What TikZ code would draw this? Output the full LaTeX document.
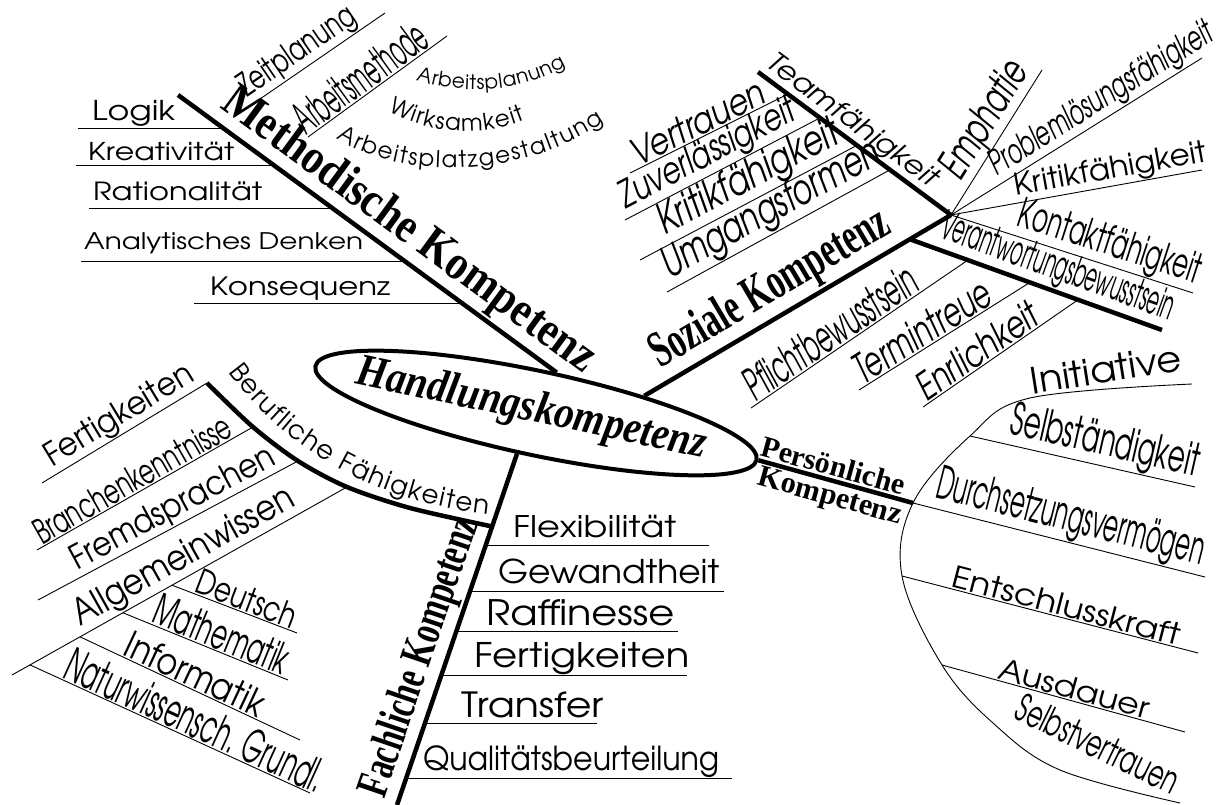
\documentclass[tikz,border=0pt]{standalone}
\usepackage[T1]{fontenc}
\usepackage{fontspec}
\newfontfamily\tnr{Liberation Serif}
\usetikzlibrary{calc,shapes.geometric,decorations.text}

% gothic face for the terms
\newcommand\gf{\fontencoding{T1}\fontfamily{pag}\fontsize{20}{22}\selectfont}
% scale a label to width #2 (pt), #1 = vertical stretch
\newcommand\breit[3][0.82]{\resizebox{#2pt}{!}{\scalebox{1}[#1]{#3}}}

\tikzset{
  ast/.style={line width=4.5pt},
  zweig/.style={line width=0.9pt},
  begriff/.style={inner sep=1pt, font=\gf},
  schraeg/.style={inner sep=1pt, font=\gf\slshape},
  titel/.style={inner sep=2pt, font=\tnr\bfseries\fontsize{30}{32}\selectfont}
}

\begin{document}
\begin{tikzpicture}[x=1pt, y=-1pt, line join=round]
  \useasboundingbox (0,0) rectangle (1224,805);

  % centre
  \node[draw, ellipse, line width=4pt, minimum width=451pt, minimum height=84pt,
        inner sep=0pt, rotate=-12] (hk) at (536,413) {};
  \node[rotate=-12, inner sep=0pt, font=\tnr\bfseries\itshape\fontsize{30}{32}\selectfont]
        (hktext) at (531,410) {\breit[1.15]{357}{Handlungskompetenz}};

  % Methodische Kompetenz
  \coordinate (mk1) at (178,95);
  \draw[ast] (mk1) -- (hk.75)
    node[titel, sloped, above, pos=0.567] (mktext) {\breit[1.15]{451}{Methodische Kompetenz}}
    coordinate[pos=0.1217] (mka) coordinate[pos=0.2542] (mkb) coordinate[pos=0.4081] (mkc)
    coordinate[pos=0.6015] (mkd) coordinate[pos=0.7519] (mke);
  \draw[zweig] (mka) -- ++(-146,0) coordinate (mka0);
  \draw[zweig] (mkb) -- ++(-198,0) coordinate (mkb0);
  \draw[zweig] (mkc) -- ++(-244,0) coordinate (mkc0);
  \draw[zweig] (mkd) -- ++(-325,0) coordinate (mkd0);
  \draw[zweig] (mke) -- ++(-269,0) coordinate (mke0);
  \node[begriff, anchor=base west] (logik) at (91,121) {\breit{83}{Logik}};
  \node[begriff, anchor=base west] (kreativ) at (87,160.5) {\breit{146}{Kreativität}};
  \node[begriff, anchor=base west] (ratio) at (92,201) {\breit{169}{Rationalität}};
  \node[begriff, anchor=base west] (analyt) at (83,250) {\breit{279}{Analytisches Denken}};
  \node[begriff, anchor=base west] (konseq) at (209,295) {\breit{180}{Konsequenz}};

  \coordinate (zp1) at (260,99);
  \coordinate (zp2) at (385,13);
  \draw[zweig] (zp1) -- (zp2) node[begriff, sloped, above, pos=0.38] (zeit) {\breit[1.4]{135}{Zeitplanung}};
  \coordinate (am1) at (308,137);
  \coordinate (am2) at (447,36);
  \draw[zweig] (am1) -- (am2) node[begriff, sloped, above, pos=0.45] (amethode) {\breit[2.2]{155}{Arbeitsmethode}};

  \path[decorate, decoration={text along path, text align={fit to path},
        text={|\gf\fontsize{20}{20}\selectfont|Arbeitsplanung}}]
    (416,80) .. controls (466,96) and (520,92) .. (566,66);
  \path[decorate, decoration={text along path, text align={fit to path},
        text={|\gf\fontsize{23}{23}\selectfont|Wirksamkeit}}]
    (388,111) .. controls (430,134) and (480,138) .. (525,120);
  \path[decorate, decoration={text along path, text align={fit to path},
        text={|\gf\fontsize{23}{23}\selectfont|Arbeitsplatzgestaltung}}]
    (336,138) .. controls (400,180) and (520,180) .. (604,122);

  % Soziale Kompetenz
  \coordinate (hub) at (951,215);
  \draw[ast] (hk.21) -- (hub)
    node[titel, sloped, above, pos=0.457] (sktext) {\breit[1.55]{270}{Soziale Kompetenz}}
    coordinate[pos=0.866] (skv);

  \coordinate (tf1) at (758,72);
  \draw[ast] (tf1) -- (hub)
    node[schraeg, sloped, above, pos=0.433] (team) {\breit[0.9]{205}{Teamfähigkeit}}
    coordinate[pos=0.155] (tfa) coordinate[pos=0.321] (tfb)
    coordinate[pos=0.513] (tfc) coordinate[pos=0.684] (tfd);
  \coordinate (vt0) at (630,173);
  \coordinate (zv0) at (625,220);
  \coordinate (kf0) at (640,260);
  \coordinate (ug0) at (667,292);
  \draw[zweig] (vt0) -- (tfa) node[schraeg, sloped, above, pos=0.466] (vertrauen) {\breit[1.2]{145}{Vertrauen}};
  \draw[zweig] (zv0) -- (tfb) node[schraeg, sloped, above, pos=0.469] (zuverl) {\breit[1.3]{195}{Zuverlässigkeit}};
  \draw[zweig] (kf0) -- (tfc) node[schraeg, sloped, above, pos=0.542] (kritik1) {\breit[1.3]{201}{Kritikfähigkeit}};
  \draw[zweig] (ug0) -- (tfd) node[schraeg, sloped, above, pos=0.51] (umgang) {\breit[1.4]{243}{Umgangsformen}};

  \coordinate (emp) at (1042,70);
  \coordinate (plf) at (1202,58);
  \coordinate (krf) at (1202,170);
  \coordinate (kof) at (1193,293);
  \draw[zweig] (hub) -- (emp) node[schraeg, sloped, above, pos=0.57] (emph) {\breit[1.5]{130}{Emphatie}};
  \draw[zweig] (hub) -- (plf) node[schraeg, sloped, above, pos=0.636] (problem) {\breit[1.55]{258}{Problemlösungsfähigkeit}};
  \draw[zweig] (hub) -- (krf) node[begriff, sloped, above, pos=0.645] (kritik2) {\breit[0.97]{195}{Kritikfähigkeit}};
  \draw[zweig] (hub) -- (kof) node[begriff, sloped, above, pos=0.629] (kontakt) {\breit[1.7]{190}{Kontaktfähigkeit}};

  \coordinate (vb2) at (1162,330);
  \draw[ast] (skv) -- (vb2)
    node[begriff, sloped, above, pos=0.556] (verant) {\breit[2.2]{245}{Verantwortungsbewusstsein}}
    coordinate[pos=0.230] (vba) coordinate[pos=0.476] (vbb) coordinate[pos=0.667] (vbc);
  \coordinate (pf0) at (751,408);
  \coordinate (tt0) at (859,390);
  \coordinate (eh0) at (923,407);
  \draw[zweig] (pf0) -- (vba) node[schraeg, sloped, above, pos=0.408] (pflicht) {\breit[1.9]{200}{Pflichtbewusstsein}};
  \draw[zweig] (tt0) -- (vbb) node[schraeg, sloped, above, pos=0.414] (termin) {\breit[1.5]{155}{Termintreue}};
  \draw[zweig] (eh0) -- (vbc) node[schraeg, sloped, above, pos=0.40] (ehrlich) {\breit[1.3]{140}{Enrlichkeit}};

  % Persoenliche Kompetenz
  \coordinate (p0) at (1192,384);
  \coordinate (p1) at (1030,398);
  \coordinate (p2) at (970,436);
  \coordinate (p3) at (913,503);
  \coordinate (p4) at (902,576);
  \coordinate (p5) at (942,665);
  \coordinate (p6) at (993,723);
  \coordinate (p7) at (1060,770);
  \coordinate (p8) at (1180,803);
  \draw[ast] (hk.east) -- (p3)
    node[titel, sloped, above, pos=0.46] (pers1) {\breit[1]{148}{Persönliche}}
    node[titel, sloped, below, pos=0.49] (pers2) {\breit[1]{148}{Kompetenz}};
  \draw[zweig] plot[smooth, tension=0.6] coordinates {(p0) (p1) (p2) (p3) (p4) (p5) (p6) (p7) (p8)};

  \coordinate (sb2) at (1195,487);
  \coordinate (ds2) at (1205,577);
  \coordinate (ek2) at (1198,653);
  \coordinate (ad2) at (1185,732);
  \draw[zweig] (p2) -- (sb2) node[begriff, sloped, above, pos=0.578] (selbst) {\breit[1.7]{192}{Selbständigkeit}};
  \draw[zweig] (p3) -- (ds2) node[begriff, sloped, above, pos=0.52] (durch) {\breit[2.0]{275}{Durchsetzungsvermögen}};
  \draw[zweig] (p4) -- (ek2) node[begriff, sloped, above, pos=0.544] (entschl) {\breit[0.87]{235}{Entschlusskraft}};
  \draw[zweig] (p5) -- (ad2) node[begriff, sloped, above, pos=0.53] (ausd) {\breit[0.88]{155}{Ausdauer}};
  \node[begriff, rotate=9, anchor=south] (init) at (1108,384) {\breit[0.95]{152}{Initiative}};
  \node[begriff, rotate=-26] (selbstv) at (1098,744) {\breit[1.6]{176}{Selbstvertrauen}};

  % Fachliche Kompetenz
  \coordinate (fkend) at (397,805);
  \draw[ast] (hk.257) -- (fkend)
    node[titel, sloped, above, pos=0.603] (fktext) {\breit[1.45]{292}{Fachliche Kompetenz}}
    coordinate[pos=0.2068] (fkb)
    coordinate[pos=0.2606] (fka1) coordinate[pos=0.391] (fka2) coordinate[pos=0.507] (fka3)
    coordinate[pos=0.6317] (fka4) coordinate[pos=0.7677] (fka5) coordinate[pos=0.9235] (fka6);
  \draw[zweig] (fka1) -- ++(223.5,0) coordinate (fka1e);
  \draw[zweig] (fka2) -- ++(254,0) coordinate (fka2e);
  \draw[zweig] (fka3) -- ++(222,0) coordinate (fka3e);
  \draw[zweig] (fka4) -- ++(246,0) coordinate (fka4e);
  \draw[zweig] (fka5) -- ++(172,0) coordinate (fka5e);
  \draw[zweig] (fka6) -- ++(326,0) coordinate (fka6e);
  \node[begriff, anchor=base west] (flex) at (512,537) {\breit[0.85]{163}{Flexibilität}};
  \node[begriff, anchor=base west] (gewandt) at (497,583) {\breit[0.95]{221}{Gewandtheit}};
  \node[begriff, anchor=base west] (raffin) at (485,625) {\breit[0.88]{188}{Raffinesse}};
  \node[begriff, anchor=base west] (fertig2) at (473,667) {\breit[0.88]{215}{Fertigkeiten}};
  \node[begriff, anchor=base west] (transfer) at (460,717) {\breit[0.88]{142}{Transfer}};
  \node[begriff, anchor=base west] (quali) at (422,770) {\breit[1.1]{296}{Qualitätsbeurteilung}};

  % Berufliche Faehigkeiten
  \coordinate (bf0) at (207,383);
  \coordinate (bf1) at (253,427);
  \coordinate (bf2) at (298,461);
  \coordinate (bf3) at (347,487);
  \coordinate (bf4) at (410,508);
  \draw[ast] plot[smooth] coordinates {(bf0) (bf1) (bf2) (bf3) (bf4) (fkb)};
  \path[decorate, decoration={text along path, text align={fit to path},
        text={|\gf\fontsize{26}{26}\selectfont|Berufliche Fähigkeiten}}]
    (228,372) .. controls (282,445) and (365,500) .. (488,514);

  \coordinate (fg0) at (42,483);
  \coordinate (bk0) at (37,550);
  \coordinate (fs0) at (38,600);
  \coordinate (aw0) at (12,675);
  \draw[zweig] (fg0) -- (bf0) node[begriff, sloped, above, pos=0.524] (fertig1) {\breit[1.08]{168}{Fertigkeiten}};
  \draw[zweig] (bk0) -- (bf1) node[begriff, sloped, above, pos=0.474] (branche) {\breit[1.5]{222}{Branchenkenntnisse}};
  \draw[zweig] (fs0) -- (bf2) node[begriff, sloped, above, pos=0.55] (fremd) {\breit[1.13]{226}{Fremdsprachen}};
  \draw[zweig] (aw0) -- (bf3) node[begriff, sloped, above, pos=0.54] (allg) {\breit[1.15]{248}{Allgemeinwissen}}
    coordinate[pos=0.4776] (awa) coordinate[pos=0.331] (awb)
    coordinate[pos=0.203] (awc) coordinate[pos=0.0537] (awd);

  \coordinate (de2) at (297,633);
  \coordinate (ma2) at (288,680);
  \coordinate (in2) at (300,740);
  \coordinate (nw2) at (310,793);
  \draw[zweig] (awa) -- (de2) node[begriff, sloped, above, pos=0.56] (deutsch) {\breit[1.3]{105}{Deutsch}};
  \draw[zweig] (awb) -- (ma2) node[begriff, sloped, above, pos=0.56] (mathe) {\breit[1.75]{142}{Mathematik}};
  \draw[zweig] (awc) -- (in2) node[begriff, sloped, above, pos=0.494] (info) {\breit[1.17]{150}{Informatik}};
  \draw[zweig] (awd) -- (nw2) node[begriff, sloped, above, pos=0.565] (natur) {\breit[1.9]{280}{Naturwissensch. Grundl.}};
\end{tikzpicture}
\end{document}
